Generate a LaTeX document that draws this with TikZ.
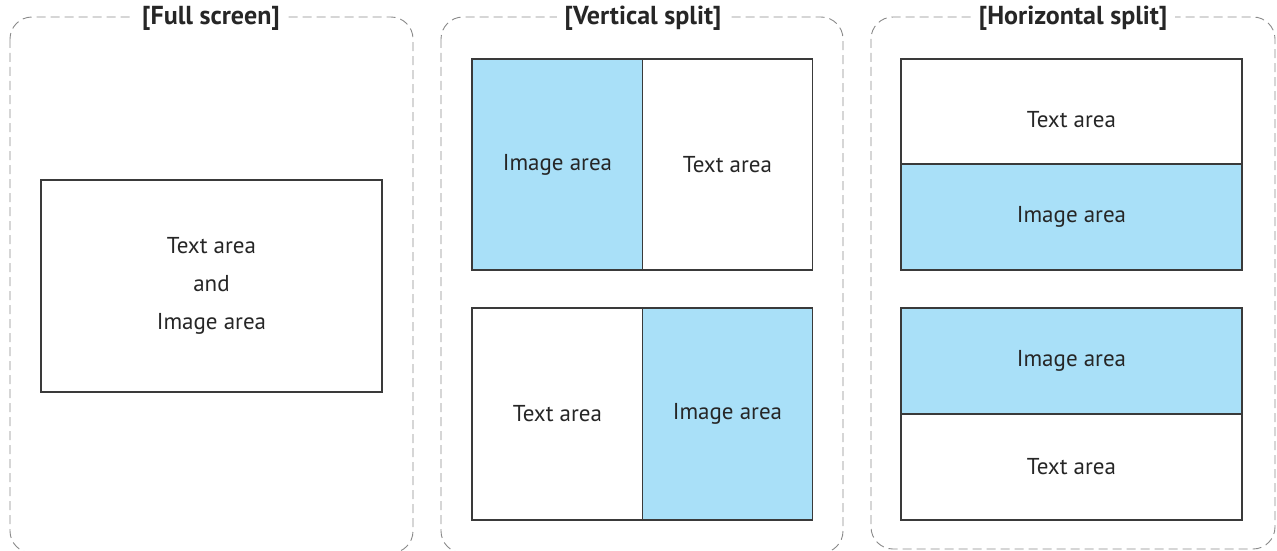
\documentclass[tikz,border=0pt]{standalone}
\usepackage{fontspec}
\setmainfont{PT Sans}
\usepackage{tikz}
\usepackage{xcolor}

\definecolor{imgblue}{HTML}{A9E0F8}
\definecolor{edgegray}{HTML}{8A8A8A}
\definecolor{boxline}{HTML}{3A3A3A}

\tikzset{
  panel/.style={draw=edgegray, line width=0.9pt, dash pattern=on 9pt off 5pt, rounded corners=22pt},
  paneltitle/.style={fill=white, inner xsep=8pt, font=\fontsize{26}{30}\selectfont\bfseries, text=black!85},
  areabox/.style={draw=boxline, line width=1.4pt, font=\fontsize{23}{28}\selectfont, text=black!85, align=center},
  txtarea/.style={areabox, fill=white},
  imgarea/.style={areabox, fill=imgblue}
}

\begin{document}
\begin{tikzpicture}[x=1pt,y=-1pt]
    \useasboundingbox (0,0) rectangle (1277,551);

    % Dashed panels
    \draw[panel] (10,17) rectangle (413,553);
    \draw[panel] (441,17) rectangle (843,553);
    \draw[panel] (871,17) rectangle (1275,549);
    \node[paneltitle] (tfull) at (211,18) {[Full screen]};
    \node[paneltitle] (tvert) at (643,18) {[Vertical split]};
    \node[paneltitle] (thori) at (1073,18) {[Horizontal split]};

    % Full screen
    \node[txtarea, minimum width=341pt, minimum height=212pt] (full) at (211.5,286)
        {Text area\\[10pt]and\\[10pt]Image area};

    % Vertical split
    \node[imgarea, minimum width=171pt, minimum height=211pt] (v1img) at (557.5,164.5) {Image area};
    \node[txtarea, minimum width=170pt, minimum height=211pt] (v1txt) at (727.5,164.5) {Text area};
    \node[txtarea, minimum width=171pt, minimum height=212pt] (v2txt) at (557.5,414) {Text area};
    \node[imgarea, minimum width=170pt, minimum height=212pt] (v2img) at (727.5,414) {Image area};

    % Horizontal split
    \node[txtarea, minimum width=341pt, minimum height=105pt] (h1txt) at (1071.5,111.5) {\raisebox{-16pt}[0pt][0pt]{Text area}};
    \node[imgarea, minimum width=341pt, minimum height=106pt] (h1img) at (1071.5,217) {Image area};
    \node[imgarea, minimum width=341pt, minimum height=106pt] (h2img) at (1071.5,361) {Image area};
    \node[txtarea, minimum width=341pt, minimum height=106pt] (h2txt) at (1071.5,467) {Text area};
\end{tikzpicture}
\end{document}
